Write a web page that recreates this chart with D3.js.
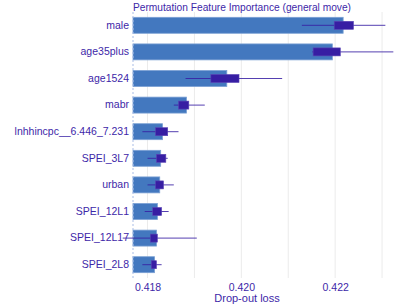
<!DOCTYPE html>
<html>
<head>
    <script src="https://d3js.org/d3.v7.min.js"></script>
    <style type="text/css">
        body { margin: 0; background: #fff; }
        svg { font-family: "Liberation Sans", Arial, sans-serif; }
        .grid line { stroke: #ebebeb; stroke-width: 1; }
        .lbl { fill: #3d27a8; }
    </style>
</head>
<body>
    <svg id="chart" width="411" height="305"></svg>
    <script>
        var features = ["male", "age35plus", "age1524", "mabr", "lnhhincpc__6.446_7.231",
            "SPEI_3L7", "urban", "SPEI_12L1", "SPEI_12L17", "SPEI_2L8"];
        var baseline = 0.41769;
        var dropout = [0.42217, 0.42194, 0.41969, 0.41883, 0.41832, 0.41828, 0.41826, 0.41821, 0.41819, 0.41815];
        var whiskLo = [0.42129, 0.42151, 0.41881, 0.41856, 0.41789, 0.41800, 0.41800, 0.41794, 0.41747, 0.41789];
        var q1 = [0.42198, 0.42153, 0.41935, 0.41866, 0.41817, 0.41819, 0.41817, 0.41811, 0.41806, 0.41808];
        var q3 = [0.42239, 0.42211, 0.41995, 0.41888, 0.41843, 0.41839, 0.41834, 0.41830, 0.41821, 0.41819];
        var whiskHi = [0.42307, 0.42324, 0.42087, 0.41922, 0.41866, 0.41843, 0.41856, 0.41845, 0.41905, 0.41830];
        var tickVals = [0.418, 0.420, 0.422];
        var gridVals = [0.418, 0.419, 0.420, 0.421, 0.422, 0.423];

        var margin = { top: 12, right: 5, bottom: 27, left: 133 },
            width = 411 - margin.left - margin.right,
            height = 305 - margin.top - margin.bottom;

        var svg = d3.select("#chart");
        var g = svg.append("g")
            .attr("transform", "translate(" + margin.left + "," + margin.top + ")");

        var xScale = d3.scaleLinear().domain([baseline, 0.42351]).range([0, width]);
        var yScale = d3.scaleBand().domain(features).range([0, height]).paddingInner(0.4).paddingOuter(0.2);

        g.append("g").attr("class", "grid")
            .selectAll("line").data(gridVals).enter().append("line")
            .attr("x1", function(d) { return xScale(d); })
            .attr("x2", function(d) { return xScale(d); })
            .attr("y1", 0).attr("y2", height);

        g.selectAll("rect.bar")
            .data(features)
            .enter()
            .append("rect")
                .attr("class", "bar")
                .attr("x", xScale(baseline))
                .attr("y", function(d) { return yScale(d); })
                .attr("width", function(d, i) { return xScale(dropout[i]) - xScale(baseline); })
                .attr("height", yScale.bandwidth())
                .attr("fill", "#4378bf")
                .attr("stroke", "#7aa0d4")
                .attr("stroke-width", 0.8);

        g.append("line")
            .attr("x1", xScale(baseline)).attr("x2", xScale(baseline))
            .attr("y1", 0).attr("y2", height)
            .attr("stroke", "#a9bde6")
            .attr("stroke-width", 1)
            .attr("stroke-dasharray", "2,2");

        // boxplots of permutation rounds
        var boxes = g.selectAll("g.box").data(features).enter().append("g").attr("class", "box");
        boxes.append("line")
            .attr("x1", function(d, i) { return xScale(whiskLo[i]); })
            .attr("x2", function(d, i) { return xScale(whiskHi[i]); })
            .attr("y1", function(d) { return yScale(d) + yScale.bandwidth() / 2; })
            .attr("y2", function(d) { return yScale(d) + yScale.bandwidth() / 2; })
            .attr("stroke", "#371ea3")
            .attr("stroke-opacity", 0.85)
            .attr("stroke-width", 1);
        boxes.append("rect")
            .attr("x", function(d, i) { return xScale(q1[i]); })
            .attr("y", function(d) { return yScale(d) + yScale.bandwidth() / 2 - 4; })
            .attr("width", function(d, i) { return xScale(q3[i]) - xScale(q1[i]); })
            .attr("height", 8)
            .attr("fill", "#371ea3")
            .attr("stroke", "#5a44b5")
            .attr("stroke-width", 0.6);

        g.append("g")
            .call(d3.axisLeft(yScale).tickSize(0).tickPadding(4))
            .call(function(a) { a.select(".domain").remove(); })
            .selectAll("text")
                .attr("class", "lbl")
                .style("font-size", "10.5px");

        g.append("g")
            .attr("transform", "translate(0," + height + ")")
            .call(d3.axisBottom(xScale).tickValues(tickVals).tickFormat(d3.format(".3f")).tickSize(0).tickPadding(6))
            .call(function(a) { a.select(".domain").remove(); })
            .selectAll("text")
                .attr("class", "lbl")
                .style("font-size", "10.5px");

        svg.append("text")
            .attr("class", "lbl")
            .attr("x", 247).attr("y", 302)
            .attr("text-anchor", "middle")
            .style("font-size", "11px")
            .text("Drop-out loss");

        svg.append("text")
            .attr("class", "lbl")
            .attr("x", margin.left).attr("y", 11)
            .style("font-size", "10.2px")
            .text("Permutation Feature Importance (general move)");
    </script>
</body>
</html>
